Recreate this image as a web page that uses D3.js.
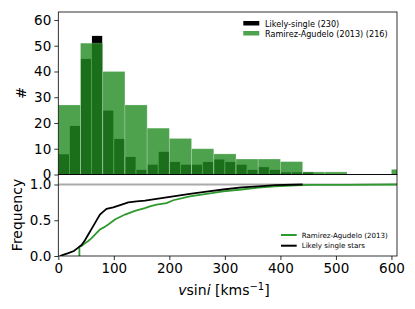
<!DOCTYPE html>
<html>
<head>
<meta charset="utf-8">
<script src="https://cdn.jsdelivr.net/npm/d3@7"></script>
<style>
  body { margin: 0; background: #fff; }
  svg { font-family: "DejaVu Sans", sans-serif; }
</style>
</head>
<body>
<div id="chart"></div>
<script>
// histogram, likely single stars (bin width 20)
const singleBins = [0,20,40,60,80,100,120,140,160,180,200,220,240,260,280,300,320,340,360,380,400,420,440];
const singleCounts = [8,19,45,54,25,14,7,2,4,9,5,4,4,5,6,5,4,2,3,2,1,1,1];
// histogram, Ramirez-Agudelo 2013 (bin width 40)
const ramirezBins = [0,40,80,120,160,200,240,280,320,360,400,440,480,600];
const ramirezCounts = [27,51,40,27,18,14,10,8,6,6,5,1,1,2];

// cumulative curves
const cdfSingleV = [3,10,18,28,33,42,48,54,60,66,75,81,87,99,114,126,141,156,177,207,237,267,297,330,360,390,440];
const cdfSingleF = [0,0.02,0.04,0.07,0.1,0.155,0.22,0.30,0.38,0.46,0.58,0.62,0.66,0.68,0.72,0.75,0.765,0.775,0.80,0.835,0.87,0.90,0.93,0.96,0.975,0.99,1.0];
const cdfRamV = [38,38,42,48,54,60,66,75,82,90,102,120,138,156,165,177,195,207,237,267,297,330,360,390,438,460,520,605,610];
const cdfRamF = [0,0.13,0.14,0.18,0.21,0.25,0.30,0.37,0.40,0.44,0.51,0.58,0.63,0.67,0.695,0.72,0.74,0.78,0.835,0.87,0.905,0.93,0.955,0.975,0.99,0.995,0.995,1.0,1.0];

const xTicks = [0,100,200,300,400,500,600];
const histTicks = [0,10,20,30,40,50,60];
const freqTicks = [0,0.5,1.0];

const W = 415, H = 309;
const left = 58.3, right = 397;
const topT = 12, topB = 174.5, botT = 174.5, botB = 256;

const svg = d3.select("#chart").append("svg")
    .attr("width", W).attr("height", H);

const x = d3.scaleLinear().domain([0, 610]).range([left, right]);
const yTop = d3.scaleLinear().domain([0, 63.1]).range([topB, topT]);
const yBot = d3.scaleLinear().domain([0, 1.14]).range([botB, botT]);

const green = "#228b22";

svg.append("clipPath").attr("id", "clipTop")
  .append("rect").attr("x", left).attr("y", topT).attr("width", right - left).attr("height", topB - topT);
svg.append("clipPath").attr("id", "clipBot")
  .append("rect").attr("x", left).attr("y", botT).attr("width", right - left).attr("height", botB - botT);

// top panel bars
const gTop = svg.append("g").attr("clip-path", "url(#clipTop)");
gTop.selectAll("rect.single")
  .data(singleBins.map((b, i) => ({b, c: singleCounts[i]})))
  .enter().append("rect")
    .attr("class", "single")
    .attr("x", d => x(d.b))
    .attr("width", d => x(d.b + 20) - x(d.b))
    .attr("y", d => yTop(d.c))
    .attr("height", d => yTop(0) - yTop(d.c))
    .style("fill", "#000")
    .style("stroke", "#fff")
    .style("stroke-width", 0.8);

gTop.selectAll("rect.ram")
  .data(ramirezBins.map((b, i) => ({b, c: ramirezCounts[i]})))
  .enter().append("rect")
    .attr("class", "ram")
    .attr("x", d => x(d.b))
    .attr("width", d => x(d.b + 40) - x(d.b))
    .attr("y", d => yTop(d.c))
    .attr("height", d => yTop(0) - yTop(d.c))
    .style("fill", green)
    .style("fill-opacity", 0.8)
    .style("stroke", "#fff")
    .style("stroke-opacity", 0.25)
    .style("stroke-width", 0.8);

// bottom panel
const gBot = svg.append("g").attr("clip-path", "url(#clipBot)");
gBot.append("line")
    .attr("x1", left).attr("x2", right)
    .attr("y1", yBot(1)).attr("y2", yBot(1))
    .style("stroke", "#aaa").style("stroke-width", 2);

const lineRam = d3.line().x(d => x(d[0])).y(d => yBot(d[1]));
gBot.append("path")
    .attr("d", lineRam(cdfRamV.map((v, i) => [v, cdfRamF[i]])))
    .style("fill", "none").style("stroke", "#2e9a2e").style("stroke-width", 1.8);
gBot.append("path")
    .attr("d", lineRam(cdfSingleV.map((v, i) => [v, cdfSingleF[i]])))
    .style("fill", "none").style("stroke", "#000").style("stroke-width", 1.8);

// axes
const fs = "13.5px";
const ayTop = svg.append("g").attr("transform", `translate(${left},0)`)
    .call(d3.axisLeft(yTop).tickValues(histTicks).tickSize(4).tickPadding(3));
const ayBot = svg.append("g").attr("transform", `translate(${left},0)`)
    .call(d3.axisLeft(yBot).tickValues(freqTicks).tickFormat(d3.format(".1f")).tickSize(4).tickPadding(3));
const axBot = svg.append("g").attr("transform", `translate(0,${botB})`)
    .call(d3.axisBottom(x).tickValues(xTicks).tickSize(4).tickPadding(3));
[ayTop, ayBot, axBot].forEach(a => {
  a.select(".domain").remove();
  a.selectAll("text").style("font-size", fs).style("font-family", "DejaVu Sans").attr("fill", "#000");
  a.selectAll("line").style("stroke", "#000").style("stroke-width", 0.8);
});

// frames
svg.append("rect").attr("x", left).attr("y", topT).attr("width", right - left).attr("height", topB - topT)
    .style("fill", "none").style("stroke", "#000").style("stroke-width", 0.8);
svg.append("rect").attr("x", left).attr("y", botT).attr("width", right - left).attr("height", botB - botT)
    .style("fill", "none").style("stroke", "#000").style("stroke-width", 0.8);

// axis labels
svg.append("text").attr("transform", "translate(25.5,93) rotate(-90)")
    .attr("text-anchor", "middle").style("font-size", "14px").text("#");
svg.append("text").attr("transform", "translate(21.7,215) rotate(-90)")
    .attr("text-anchor", "middle").style("font-size", "14px").text("Frequency");
const xl = svg.append("text").attr("x", 224).attr("y", 295)
    .attr("text-anchor", "middle").style("font-size", "14px");
xl.append("tspan").style("font-style", "italic").text("v");
xl.append("tspan").text("sin");
xl.append("tspan").style("font-style", "italic").text("i");
xl.append("tspan").text(" [kms");
xl.append("tspan").attr("dy", -5).style("font-size", "10px").text("\u22121");
xl.append("tspan").attr("dy", 5).text("]");

// top legend
const legTop = [
  {label: "Likely-single  (230)", color: "#000", op: 1},
  {label: "Ramirez-Agudelo (2013) (216)", color: green, op: 0.8}
];
legTop.forEach((d, i) => {
  const y0 = 21 + i * 10;
  svg.append("rect").attr("x", 243.3).attr("y", y0).attr("width", 16).attr("height", 4.5)
      .style("fill", d.color).style("fill-opacity", d.op);
  svg.append("text").attr("x", 265).attr("y", y0 + 6).style("font-size", "8.1px").text(d.label);
});

// bottom legend
const legBot = [
  {label: "Ramirez-Agudelo (2013)", color: "#2e9a2e"},
  {label: "Likely single stars", color: "#000"}
];
legBot.forEach((d, i) => {
  const y0 = 235 + i * 10.7;
  svg.append("line").attr("x1", 281).attr("x2", 296.7).attr("y1", y0).attr("y2", y0)
      .style("stroke", d.color).style("stroke-width", 2);
  svg.append("text").attr("x", 301.7).attr("y", y0 + 2.5).style("font-size", "7.1px").text(d.label);
});
</script>
</body>
</html>
